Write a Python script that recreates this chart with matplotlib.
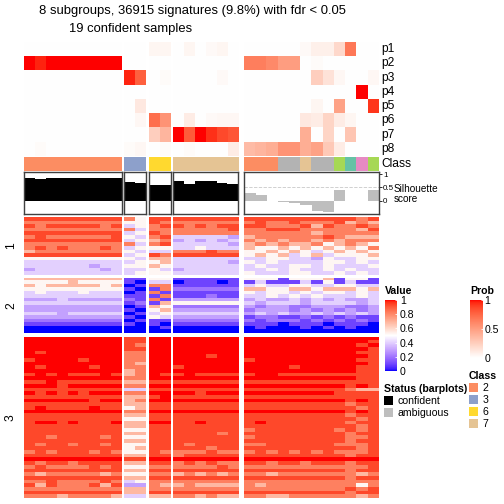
import numpy as np
import matplotlib.pyplot as plt
from matplotlib.colors import ListedColormap, Normalize, to_rgb
from matplotlib.cm import ScalarMappable
from matplotlib.patches import Patch

plt.rcParams['font.family'] = ['Liberation Sans', 'DejaVu Sans']

W = H = 504

title1 = "8 subgroups, 36915 signatures (9.8%) with fdr < 0.05"
title2 = "19 confident samples"

group_sizes = [9, 2, 2, 6, 12]
class_labels = [2]*9 + [3]*2 + [6]*2 + [7]*6 + [2, 2, 2, 8, 8, 7, 8, 8, 5, 1, 4, 5]
class_colors = {1: '#66C2A5', 2: '#FC8D62', 3: '#8DA0CB', 4: '#E78AC3',
                5: '#A6D854', 6: '#FFD92F', 7: '#E5C494', 8: '#B3B3B3'}
legend_classes = [2, 3, 6, 7]

silhouette = [0.85, 0.80, 0.85, 0.85, 0.85, 0.85, 0.85, 0.85, 0.85,
              0.70, 0.66,
              0.58, 0.58,
              0.74, 0.62, 0.74, 0.74, 0.67, 0.62,
              0.30, 0.21, 0.0, -0.06, -0.08, -0.16, -0.37, -0.44, 0.42, 0.0, 0.0, 0.40]
n_confident = 19

prob_names = ['p1', 'p2', 'p3', 'p4', 'p5', 'p6', 'p7', 'p8']
p1 = [0]*9 + [0, 0] + [0.05, 0.05] + [0, 0.05, 0, 0.03, 0.05, 0] + [0, 0, 0, 0, 0, 0.03, 0.08, 0.08, 0.2, 0.68, 0, 0]
p2 = [1.0, 0.96] + [1.0]*7 + [0, 0] + [0, 0] + [0]*6 + [0.65, 0.65, 0.6, 0.5, 0.5, 0, 0.02, 0, 0, 0, 0, 0]
p3 = [0]*9 + [0.96, 0.78] + [0, 0.02] + [0, 0, 0, 0, 0.03, 0] + [0, 0, 0, 0, 0, 0, 0.25, 0.15, 0.04, 0, 0, 0.04]
p4 = [0]*9 + [0, 0] + [0, 0] + [0]*6 + [0]*10 + [1.0, 0]
p5 = [0]*9 + [0, 0.12] + [0, 0] + [0]*6 + [0, 0, 0, 0, 0, 0, 0.05, 0, 0.48, 0, 0, 0.92]
p6 = [0]*9 + [0, 0.04] + [0.72, 0.55] + [0, 0.1, 0, 0.03, 0.04, 0.04] + [0, 0, 0, 0, 0, 0.12, 0.1, 0.22, 0.1, 0.05, 0, 0]
p7 = [0]*9 + [0, 0] + [0.25, 0.38] + [1.0, 0.8, 1.0, 0.93, 0.86, 0.82] + [0, 0, 0, 0, 0, 0.42, 0, 0.22, 0, 0.3, 0, 0]
p8 = [0, 0.02] + [0]*7 + [0.02, 0.04] + [0, 0.02] + [0, 0.02, 0, 0, 0, 0.1] + [0.35, 0.38, 0.42, 0.55, 0.55, 0.42, 0.48, 0.28, 0.1, 0, 0, 0]
prob = [p1, p2, p3, p4, p5, p6, p7, p8]

# heatmap values as colour levels, one digit per column,
# column groups split by spaces; level_values turns a digit into a value
level_values = [0.0, 0.1, 0.2, 0.3, 0.4, 0.52, 0.68, 0.82, 0.93, 1.0]
row_group_labels = ['1', '2', '3']
rows_1 = [
    "888888888 75 88 888888 888888888878",
    "777777777 55 87 777777 787787778676",
    "878888878 45 78 878788 887778687787",
    "777777777 74 77 777778 778887777768",
    "888888888 45 87 777777 777777677777",
    "787777778 54 78 444443 677777787666",
    "888888888 45 67 343434 767677676777",
    "777777777 74 78 444443 676766756765",
    "787877787 45 55 445444 655656565657",
    "677777777 54 44 777877 556565456565",
    "888888888 45 87 888888 565645645556",
    "555555555 54 66 444444 445544354455",
    "444444444 45 56 444443 545444455454",
    "444444344 55 65 444444 454455454445",
    "344444434 44 54 344444 445454454544",
    "444444444 45 55 444444 544455445454",
]
rows_2 = [
    "666666666 11 55 111111 555155561551",
    "555565555 10 44 011101 141114151411",
    "656666656 01 77 111111 454455445544",
    "555555555 10 17 222222 665566566656",
    "454445444 01 71 111111 545545455454",
    "444444444 11 17 111211 445454544454",
    "333433333 21 71 333333 343343434334",
    "444444444 12 16 555555 434443444434",
    "333333333 01 65 222222 323322333223",
    "333333333 10 56 333333 233323232323",
    "444344444 01 45 444444 343433434343",
    "333333333 10 54 333333 122112121211",
    "222222222 01 11 222222 212221212121",
    "111111111 10 10 111111 111011101110",
    "000000000 00 01 000000 010001010100",
    "000000000 00 00 000000 000000000000",
]
rows_3 = [
    "999999999 88 99 999999 999999999999",
    "999999999 88 99 999999 999999999998",
    "999999999 87 99 999999 999999999989",
    "999999999 88 99 999999 999999999998",
    "989999999 77 99 999999 999999999988",
    "999999999 77 99 999899 999999999998",
    "899998999 77 99 999999 899999999988",
    "999999999 76 99 999999 999999999998",
    "989999899 77 99 899999 999989999988",
    "999999999 67 99 999999 999999999988",
    "898988898 67 98 898888 899888888888",
    "999999999 77 99 999999 999999999988",
    "889888888 66 88 888888 888888888888",
    "999899999 77 99 999999 999999999898",
    "888888888 44 88 888888 888888888766",
    "989898999 77 99 998999 999999998888",
    "888888888 66 89 888888 888888888888",
    "999999899 67 99 999999 999999999898",
    "888888888 66 88 888888 888888888788",
    "898888988 56 88 888888 888888888878",
    "999999999 77 99 999999 999999999898",
    "888888888 66 88 888888 888888888788",
    "888888888 55 88 888888 888888888878",
    "899898889 66 99 889888 898888888788",
    "888888888 66 88 888888 888888888878",
    "888888888 55 88 888888 788888887878",
    "888888888 66 88 888878 888888888788",
    "887888878 55 88 888888 788888888778",
    "888888888 66 88 888888 888888888788",
    "878878878 55 88 878888 778888887778",
    "888888888 56 88 888788 888888888878",
    "787888787 55 87 777877 787878787778",
    "888888888 66 88 788888 888888888788",
    "999999999 88 99 999999 999999999999",
    "878878888 66 88 787877 887887888788",
    "787777878 55 77 777787 777777777778",
    "888888888 66 88 888888 888888888788",
    "767777767 55 77 676767 776777777767",
    "888888888 66 88 888888 888888888788",
    "778777787 45 77 777777 777777777777",
    "868777868 33 76 676666 767777777757",
    "777777777 66 77 777777 777777777878",
    "888888888 66 88 888888 888888888788",
    "777677776 44 66 776766 776677777767",
]


def parse(rows):
    out = []
    for r in rows:
        s = r.replace(" ", "")
        assert len(s) == 31, r
        out.append([level_values[int(c)] for c in s])
    return np.array(out)


heat_groups = [parse(rows_1), parse(rows_2), parse(rows_3)]

# colour ramps interpolated in LAB space, like colorRamp2
M = np.array([[0.4124, 0.3576, 0.1805], [0.2126, 0.7152, 0.0722], [0.0193, 0.1192, 0.9505]])
WHITE_REF = np.array([0.95047, 1.0, 1.08883])


def to_lab(rgb):
    rgb = np.asarray(rgb, float)
    lin = np.where(rgb <= 0.04045, rgb / 12.92, ((rgb + 0.055) / 1.055) ** 2.4)
    xyz = M @ lin / WHITE_REF
    f = np.where(xyz > 0.008856, np.cbrt(xyz), 7.787 * xyz + 16 / 116)
    return np.array([116 * f[1] - 16, 500 * (f[0] - f[1]), 200 * (f[1] - f[2])])


def from_lab(lab):
    L, a, b = lab
    fy = (L + 16) / 116
    f = np.array([fy + a / 500, fy, fy - b / 200])
    xyz = np.where(f ** 3 > 0.008856, f ** 3, (f - 16 / 116) / 7.787) * WHITE_REF
    lin = np.clip(np.linalg.inv(M) @ xyz, 0, 1)
    rgb = np.where(lin <= 0.0031308, 12.92 * lin, 1.055 * lin ** (1 / 2.4) - 0.055)
    return np.clip(rgb, 0, 1)


def lab_ramp(anchors, n=256):
    labs = [to_lab(to_rgb(c)) for c in anchors]
    k = len(anchors) - 1
    cols = []
    for t in np.linspace(0, 1, n):
        i = min(int(t * k), k - 1)
        u = t * k - i
        cols.append(from_lab(labs[i] * (1 - u) + labs[i + 1] * u))
    return ListedColormap(cols)


heat_cmap = lab_ramp(['blue', 'white', 'red'])
prob_cmap = lab_ramp(['white', 'red'])

fig = plt.figure(figsize=(7, 7), dpi=72)


def px_axes(x0, y0, x1, y1):
    return fig.add_axes([x0 / W, 1 - y1 / H, (x1 - x0) / W, (y1 - y0) / H])


col_x = [(24, 121.8), (124.2, 146), (149, 171), (173, 238.3), (244.3, 379)]
heat_y = [(216.8, 274.7), (277.7, 333.4), (336.7, 498)]
prob_y = (42, 156)
class_y = (157, 171)
sil_y = (171.7, 214.3)

starts = np.cumsum([0] + group_sizes)
prob_arr = np.array(prob)
frame_col = '#404040'

for g, (x0, x1) in enumerate(col_x):
    a, b = starts[g], starts[g + 1]

    ax = px_axes(x0, prob_y[0], x1, prob_y[1])
    ax.imshow(prob_arr[:, a:b], cmap=prob_cmap, vmin=0, vmax=1, aspect='auto', interpolation='nearest')
    ax.set_axis_off()

    ax = px_axes(x0, class_y[0], x1, class_y[1])
    ax.imshow(np.array([[to_rgb(class_colors[c]) for c in class_labels[a:b]]]), aspect='auto', interpolation='nearest')
    ax.set_axis_off()

    ax = px_axes(x0, sil_y[0], x1, sil_y[1])
    cols = ['black' if i < n_confident else '#BEBEBE' for i in range(a, b)]
    ax.axhline(0.5, color='#CCCCCC', ls='--', lw=0.9, zorder=0)
    ax.bar(np.arange(b - a), silhouette[a:b], width=1.0, color=cols, zorder=2)
    ax.set_xlim(-0.5, b - a - 0.5)
    ax.set_ylim(-0.51, 1.09)
    ax.set_xticks([])
    ax.set_yticks([])
    for sp in ax.spines.values():
        sp.set_color(frame_col)
        sp.set_linewidth(1.4)
    if g == len(col_x) - 1:
        ax.yaxis.tick_right()
        ax.set_yticks([0, 0.5, 1])
        ax.set_yticklabels(['0', '0.5', '1'])
        ax.tick_params(axis='y', labelsize=8, length=3, pad=1, width=0.8)

    for r, (y0, y1) in enumerate(heat_y):
        ax = px_axes(x0, y0, x1, y1)
        ax.imshow(heat_groups[r][:, a:b], cmap=heat_cmap, vmin=0, vmax=1, aspect='auto', interpolation='nearest')
        ax.set_axis_off()

# annotation names
row_h = (prob_y[1] - prob_y[0]) / len(prob_names)
for i, name in enumerate(prob_names):
    fig.text(381 / W, 1 - (prob_y[0] + row_h * (i + 0.5)) / H, name, ha='left', va='center', fontsize=12)
fig.text(381 / W, 1 - 164 / H, "Class", ha='left', va='center', fontsize=12)
fig.text(394 / W, 1 - 193.5 / H, "Silhouette\nscore", ha='left', va='center', fontsize=10, linespacing=1.0)

for lab, (y0, y1) in zip(row_group_labels, heat_y):
    fig.text(11 / W, 1 - (y0 + y1) / 2 / H, lab, ha='center', va='center', rotation=90, fontsize=12)

fig.text(192.5 / W, 1 - 11 / H, title1, ha='center', va='center', fontsize=13)
fig.text(131 / W, 1 - 29 / H, title2, ha='center', va='center', fontsize=13)

# legends
cax = px_axes(385, 300, 397, 371)
cb = fig.colorbar(ScalarMappable(Normalize(0, 1), heat_cmap), cax=cax, ticks=[0, 0.2, 0.4, 0.6, 0.8, 1])
cb.ax.set_yticklabels(['0', '0.2', '0.4', '0.6', '0.8', '1'])
cb.outline.set_visible(False)
cax.tick_params(labelsize=10.5, length=2.5, color='white', direction='in', pad=3)
fig.text(385 / W, 1 - 291 / H, "Value", fontsize=10.5, fontweight='bold', ha='left', va='center')

pax = px_axes(470, 300, 483, 358)
cb2 = fig.colorbar(ScalarMappable(Normalize(0, 1), prob_cmap), cax=pax, ticks=[0, 0.5, 1])
cb2.ax.set_yticklabels(['0', '0.5', '1'])
cb2.outline.set_visible(False)
pax.tick_params(labelsize=10.5, length=2.5, color='white', direction='in', pad=1.5)
fig.text(470 / W, 1 - 291 / H, "Prob", fontsize=10.5, fontweight='bold', ha='left', va='center')

leg_kw = dict(loc='upper left', frameon=False, fontsize=10.5, handlelength=0.9, handleheight=0.9,
              labelspacing=0.2, handletextpad=0.4, borderpad=0, borderaxespad=0, alignment='left',
              title_fontproperties={'weight': 'bold', 'size': 10.5})
fig.legend(handles=[Patch(facecolor=class_colors[c]) for c in legend_classes],
           labels=[str(c) for c in legend_classes], title="Class",
           bbox_to_anchor=(469 / W, 1 - 371 / H), **leg_kw)
fig.legend(handles=[Patch(facecolor='black'), Patch(facecolor='#BEBEBE')],
           labels=['confident', 'ambiguous'], title="Status (barplots)",
           bbox_to_anchor=(384 / W, 1 - 384 / H), **leg_kw)

fig.savefig("out.png", dpi=72)
